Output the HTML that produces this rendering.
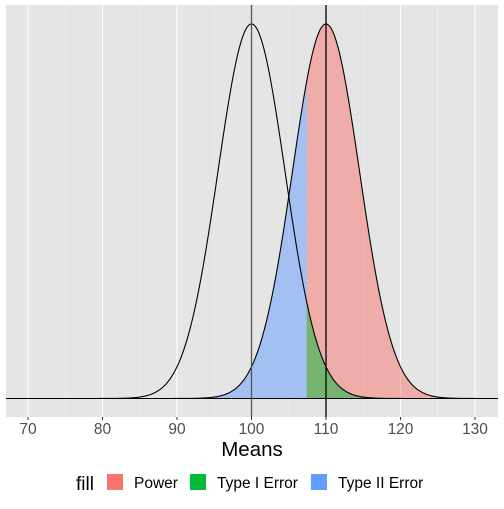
<!DOCTYPE html>
<html><head><meta charset="utf-8"><style>
body{margin:0;background:#fff;font-family:"Liberation Sans",sans-serif}
</style></head><body>
<svg id="c" width="504" height="504" xmlns="http://www.w3.org/2000/svg"></svg>
<script>
const xTicks=[70,80,90,100,110,120,130];
const xMinor=[75,85,95,105,115,125];
const means=[100,110];
const sds=[4.5,4.5];
const critical=[107.4];
const legendLabels=["Power","Type I Error","Type II Error"];
const legendColors=["#F8766D","#00BA38","#619CFF"];
const NS="http://www.w3.org/2000/svg";
const svg=document.getElementById('c');
const L=6,R=498,T=5,B=417,base=398.5,peak=24;
const xs=v=>28+(v-70)*(475-28)/60;
function dens(v,m,s){return Math.exp(-0.5*((v-m)/s)**2);}
const ys=d=>base-d*(base-peak);
function el(t,a,p){const e=document.createElementNS(NS,t);for(const k in a)e.setAttribute(k,a[k]);(p||svg).appendChild(e);return e;}
let r=el('rect',{x:L,y:T,width:R-L,height:B-T,fill:'#e5e5e5'});

xMinor.forEach(v=>{let l=el('line',{x1:xs(v),x2:xs(v),y1:T,y2:B,stroke:'#f2f2f2','stroke-width':0.6});
});
xTicks.forEach(v=>{let l=el('line',{x1:xs(v),x2:xs(v),y1:T,y2:B,stroke:'#fff','stroke-width':1.1});

let tk=el('line',{x1:xs(v),x2:xs(v),y1:B,y2:B+3,stroke:'#333','stroke-width':1});

let t=el('text',{x:xs(v),y:B+17,'text-anchor':'middle','font-size':15.5,fill:'#4d4d4d'});t.textContent=v;
});
function area(a,b,m,s,col,name){let d=`M${xs(a)},${base}`;for(let v=a;v<=b+1e-9;v+=0.1)d+=`L${xs(v)},${ys(dens(v,m,s))}`;
d+=`L${xs(b)},${base}Z`;let p=el('path',{d,fill:col,'fill-opacity':0.5});
}
const c=critical[0];
area(c,130,means[1],sds[1],legendColors[0],'power-area');
area(c,130,means[0],sds[0],legendColors[1],'type-1-error-area');
area(70,c,means[1],sds[1],legendColors[2],'type-2-error-area');
means.forEach((m,i)=>{let d='';for(let v=70;v<=130+1e-9;v+=0.1)d+=(d?'L':'M')+xs(v)+','+ys(dens(v,m,sds[i]));
let p=el('path',{d,fill:'none',stroke:'#000','stroke-width':1.1});
});
let h=el('line',{x1:L,x2:R,y1:base,y2:base,stroke:'#000','stroke-width':1.1});

means.forEach((m,i)=>{let l=el('line',{x1:xs(m),x2:xs(m),y1:T,y2:B,stroke:i==0?'#555':'#000','stroke-width':1.3});
});
let xt=el('text',{x:252,y:456,'text-anchor':'middle','font-size':20.5,fill:'#000'});xt.textContent='Means';

let lt=el('text',{x:76,y:490,'font-size':19,fill:'#000'});lt.textContent='fill';

const lx=[107,190,311];
legendLabels.forEach((s,i)=>{let g=el('g',{});
el('rect',{x:lx[i],y:474,width:16,height:16,fill:legendColors[i]},g);
let t=el('text',{x:lx[i]+27,y:488,'font-size':15.5,fill:'#000'},g);t.textContent=s;});
</script>
</body></html>
